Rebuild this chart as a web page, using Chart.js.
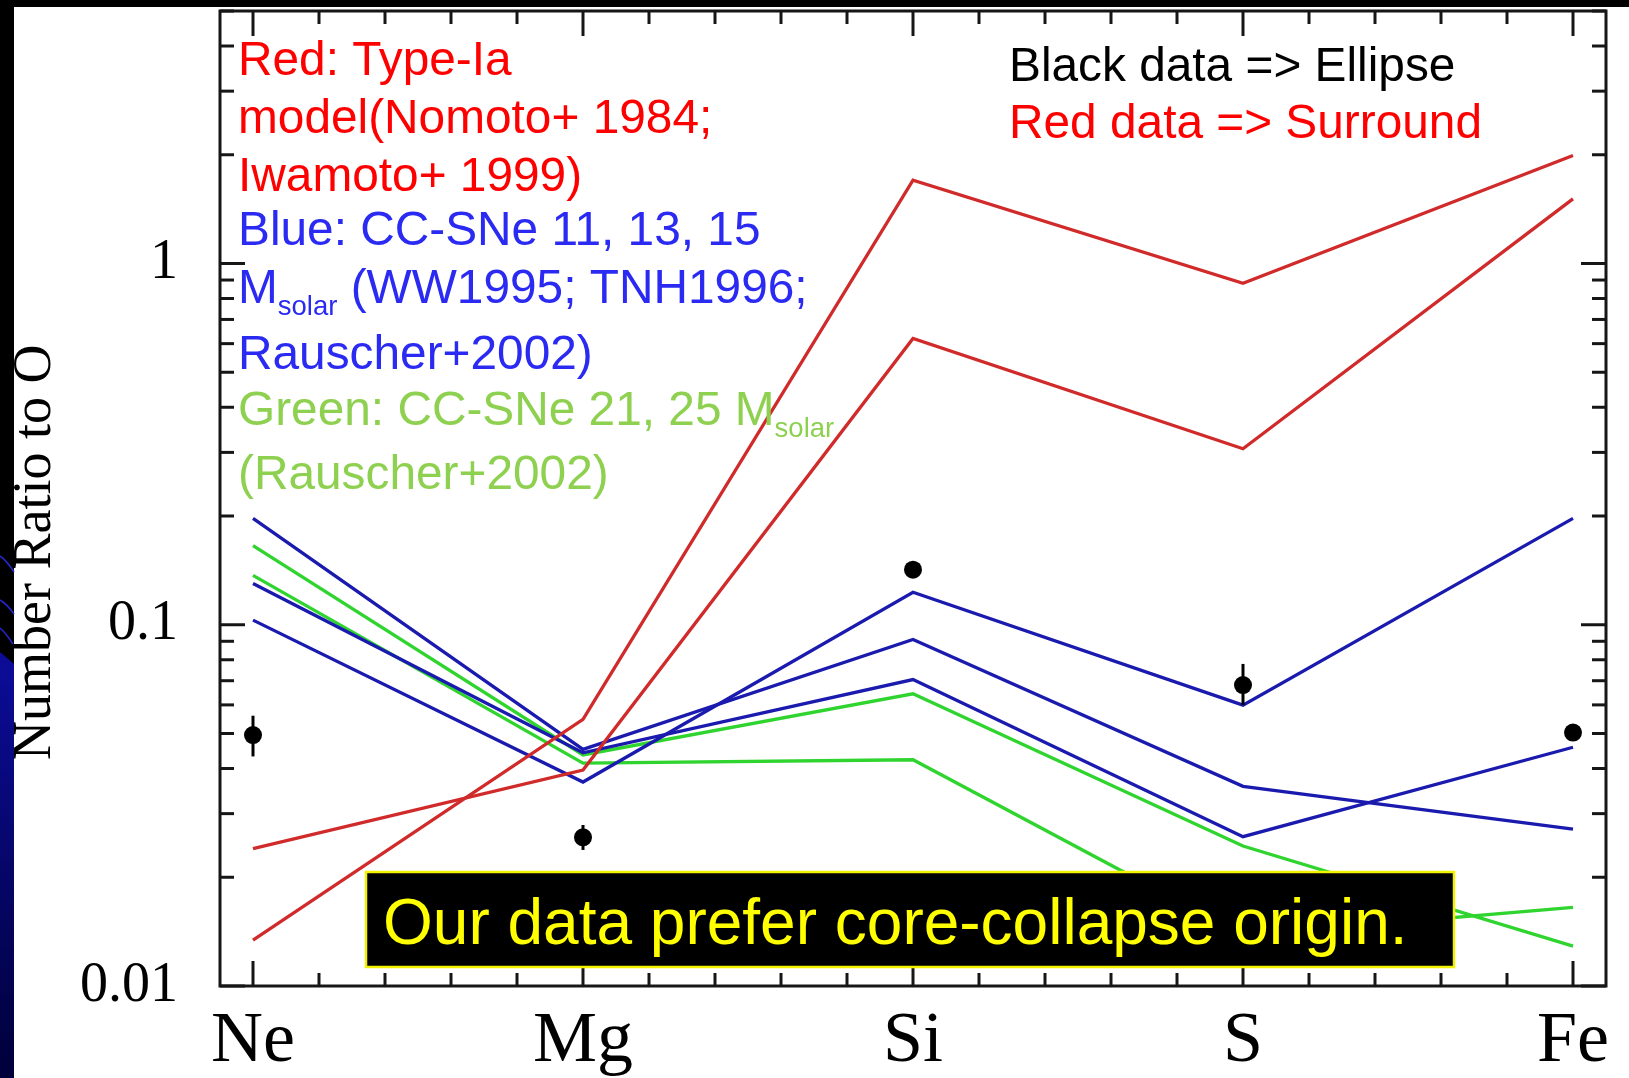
<!DOCTYPE html>
<html>
<head>
<meta charset="utf-8">
<style>
html,body{margin:0;padding:0;background:#fff;overflow:hidden}
#wrap{width:1629px;height:1078px;position:relative}
canvas{display:block}
</style>
<script src="https://cdn.jsdelivr.net/npm/chart.js@4.4.1/dist/chart.umd.min.js"></script>
</head>
<body>
<div id="wrap"><canvas id="c" width="1629" height="1078"></canvas></div>
<script>
// ---- data ----
const categories = ['Ne', 'Mg', 'Si', 'S', 'Fe'];
const typeIaA  = [0.0134, 0.0547, 1.70, 0.882, 1.99];
const typeIaB  = [0.0240, 0.0396, 0.620, 0.307, 1.51];
const ccBlue1  = [0.197, 0.0452, 0.0910, 0.0357, 0.0272];
const ccBlue2  = [0.130, 0.0442, 0.0705, 0.0259, 0.0458];
const ccBlue3  = [0.103, 0.0367, 0.123, 0.0599, 0.197];
const ccGreen1 = [0.1655, 0.0436, 0.0644, 0.0244, 0.0129];
const ccGreen2 = [0.137, 0.0414, 0.0423, 0.0138, 0.0165];
const observed     = [0.0495, 0.0258, 0.142, 0.0681, 0.0503];
const observedLow  = [0.0432, 0.0238, 0.137, 0.0599, 0.0485];
const observedHigh = [0.0560, 0.0279, 0.147, 0.0779, 0.0522];
const yTickValues = [0.01, 0.1, 1];
const yTickLabels = ['0.01', '0.1', '1'];
const yTitle = 'Number Ratio to O';
const boxText = 'Our data prefer core-collapse origin.';

const RED_LINE = '#d02a2a', BLUE_LINE = '#1a1aae', GREEN_LINE = '#2fd42f';
const RED_TXT = '#ff0000', BLUE_TXT = '#2a2af2', GREEN_TXT = '#8ed04f';

const pts = arr => arr.map((v, i) => ({x: i, y: v}));
const modelLine = (label, arr, color) => ({
  label, data: pts(arr), borderColor: color, backgroundColor: color,
  borderWidth: 3.3, pointRadius: 0, fill: false, tension: 0
});

const SANS = '"Liberation Sans", Arial, sans-serif';
const SERIF = '"Liberation Serif", "Times New Roman", serif';

const decor = {
  id: 'decor',
  beforeDraw(chart) {
    const ctx = chart.ctx;
    ctx.save();
    ctx.fillStyle = '#ffffff';
    ctx.fillRect(0, 0, chart.width, chart.height);
    ctx.fillStyle = '#000000';
    ctx.fillRect(0, 0, chart.width, 7);
    ctx.fillRect(0, 0, 14, chart.height);
    const g = ctx.createLinearGradient(0, 650, 0, chart.height);
    g.addColorStop(0, '#0c0c9a');
    g.addColorStop(1, '#00003a');
    ctx.fillStyle = g;
    ctx.beginPath();
    ctx.moveTo(0, 652); ctx.lineTo(14, 664); ctx.lineTo(14, chart.height); ctx.lineTo(0, chart.height);
    ctx.closePath(); ctx.fill();
    ctx.strokeStyle = '#2626c8'; ctx.lineWidth = 1.6;
    [[556, 572], [600, 614], [628, 646]].forEach(([a, b]) => {
      ctx.beginPath(); ctx.moveTo(0, a); ctx.quadraticCurveTo(7, (a + b) / 2 - 3, 14, b); ctx.stroke();
    });
    ctx.restore();
  },
  afterDatasetsDraw(chart) {
    const ctx = chart.ctx, xs = chart.scales.x, ys = chart.scales.y;
    ctx.save();
    ctx.strokeStyle = '#000'; ctx.lineWidth = 3;
    observed.forEach((v, i) => {
      const px = xs.getPixelForValue(i);
      ctx.beginPath();
      ctx.moveTo(px, ys.getPixelForValue(observedLow[i]));
      ctx.lineTo(px, ys.getPixelForValue(observedHigh[i]));
      ctx.stroke();
    });
    ctx.restore();
  },
  afterDraw(chart) {
    const ctx = chart.ctx, xs = chart.scales.x, ys = chart.scales.y, a = chart.chartArea;
    ctx.save();
    ctx.strokeStyle = '#161616'; ctx.lineWidth = 3; ctx.lineCap = 'butt';
    const seg = (x1, y1, x2, y2) => { ctx.beginPath(); ctx.moveTo(x1, y1); ctx.lineTo(x2, y2); ctx.stroke(); };
    const nMinor = (categories.length - 1) * 5;
    for (let k = 0; k <= nMinor; k++) {
      const px = xs.getPixelForValue(k / 5);
      const L = (k % 5 === 0) ? 25 : 13;
      seg(px, a.bottom, px, a.bottom - L);
      seg(px, a.top, px, a.top + L);
    }
    for (let e = -2; e <= 0; e++) {
      for (let m = 1; m <= 9; m++) {
        const v = m * Math.pow(10, e);
        if (v > ys.max) break;
        const py = ys.getPixelForValue(v);
        const L = (m === 1) ? 25 : 14;
        seg(a.left, py, a.left + L, py);
        seg(a.right, py, a.right - L, py);
      }
    }
    ctx.strokeRect(a.left, a.top, a.right - a.left, a.bottom - a.top);

    ctx.save();
    ctx.translate(50, 760);
    ctx.rotate(-Math.PI / 2);
    ctx.fillStyle = '#000';
    ctx.font = '54px ' + SERIF;
    ctx.textAlign = 'left'; ctx.textBaseline = 'alphabetic';
    ctx.fillText(yTitle, 0, 0);
    ctx.restore();

    ctx.textAlign = 'left'; ctx.textBaseline = 'alphabetic';
    const big = '47.8px ' + SANS, small = '27.5px ' + SANS;
    const put = (parts, x, y, color) => {
      let cx = x;
      parts.forEach(p => {
        ctx.font = p.sub ? small : big;
        ctx.fillStyle = color;
        ctx.fillText(p.t, cx, y + (p.sub ? 12 : 0));
        cx += ctx.measureText(p.t).width;
      });
    };
    const LX = 238;
    put([{t: 'Red: Type-Ia'}], LX, 75, RED_TXT);
    put([{t: 'model(Nomoto+ 1984;'}], LX, 133, RED_TXT);
    put([{t: 'Iwamoto+ 1999)'}], LX, 191, RED_TXT);
    put([{t: 'Blue: CC-SNe 11, 13, 15'}], LX, 245, BLUE_TXT);
    put([{t: 'M'}, {t: 'solar', sub: true}, {t: ' (WW1995; TNH1996;'}], LX, 303, BLUE_TXT);
    put([{t: 'Rauscher+2002)'}], LX, 369, BLUE_TXT);
    put([{t: 'Green: CC-SNe 21, 25 M'}, {t: 'solar', sub: true}], LX, 425, GREEN_TXT);
    put([{t: '(Rauscher+2002)'}], LX, 489, GREEN_TXT);
    put([{t: 'Black data => Ellipse'}], 1009, 81, '#000000');
    put([{t: 'Red data => Surround'}], 1009, 138, RED_TXT);

    ctx.fillStyle = '#000';
    ctx.fillRect(366, 872, 1088, 95);
    ctx.strokeStyle = '#f2f200'; ctx.lineWidth = 2.5;
    ctx.strokeRect(366, 872, 1088, 95);
    ctx.fillStyle = '#ffff00';
    ctx.font = '64px ' + SANS;
    ctx.fillText(boxText, 383, 944);
    ctx.restore();
  }
};

new Chart(document.getElementById('c').getContext('2d'), {
  type: 'line',
  data: {
    datasets: [
      {label: 'Observed', data: pts(observed), showLine: false, pointRadius: 9,
       pointBackgroundColor: '#000', pointBorderColor: '#000', borderColor: '#000', backgroundColor: '#000', pointBorderWidth: 0},
      modelLine('Type-Ia (Nomoto+1984)', typeIaA, RED_LINE),
      modelLine('Type-Ia (Iwamoto+1999)', typeIaB, RED_LINE),
      modelLine('CC-SNe 1', ccBlue1, BLUE_LINE),
      modelLine('CC-SNe 2', ccBlue2, BLUE_LINE),
      modelLine('CC-SNe 3', ccBlue3, BLUE_LINE),
      modelLine('CC-SNe 21', ccGreen1, GREEN_LINE),
      modelLine('CC-SNe 25', ccGreen2, GREEN_LINE)
    ]
  },
  options: {
    responsive: false, animation: false, devicePixelRatio: 1,
    layout: {padding: {top: 11, right: 23, left: 0, bottom: 0}},
    plugins: {legend: {display: false}, tooltip: {enabled: false}},
    scales: {
      x: {
        type: 'linear', min: -0.1, max: 4.1,
        grid: {display: false, drawTicks: false}, border: {display: false},
        afterBuildTicks: s => { s.ticks = categories.map((c, i) => ({value: i})); },
        afterFit: s => { s.height = 92; s.paddingLeft = 0; s.paddingRight = 0; s.paddingTop = 0; s.paddingBottom = 0; },
        ticks: {autoSkip: false, maxRotation: 0, minRotation: 0, padding: 13, color: '#000',
                font: {family: SERIF, size: 72},
                callback: (v, i) => categories[i]}
      },
      y: {
        type: 'logarithmic', min: 0.01, max: 5,
        grid: {display: false, drawTicks: false}, border: {display: false},
        afterBuildTicks: s => { s.ticks = yTickValues.map(v => ({value: v})); },
        afterFit: s => { s.width = 220; s.paddingLeft = 0; s.paddingRight = 0; s.paddingTop = 0; s.paddingBottom = 0; },
        ticks: {autoSkip: false, padding: 42, color: '#000',
                font: {family: SERIF, size: 56},
                callback: (v, i) => yTickLabels[i]}
      }
    }
  },
  plugins: [decor]
});
</script>
</body>
</html>
